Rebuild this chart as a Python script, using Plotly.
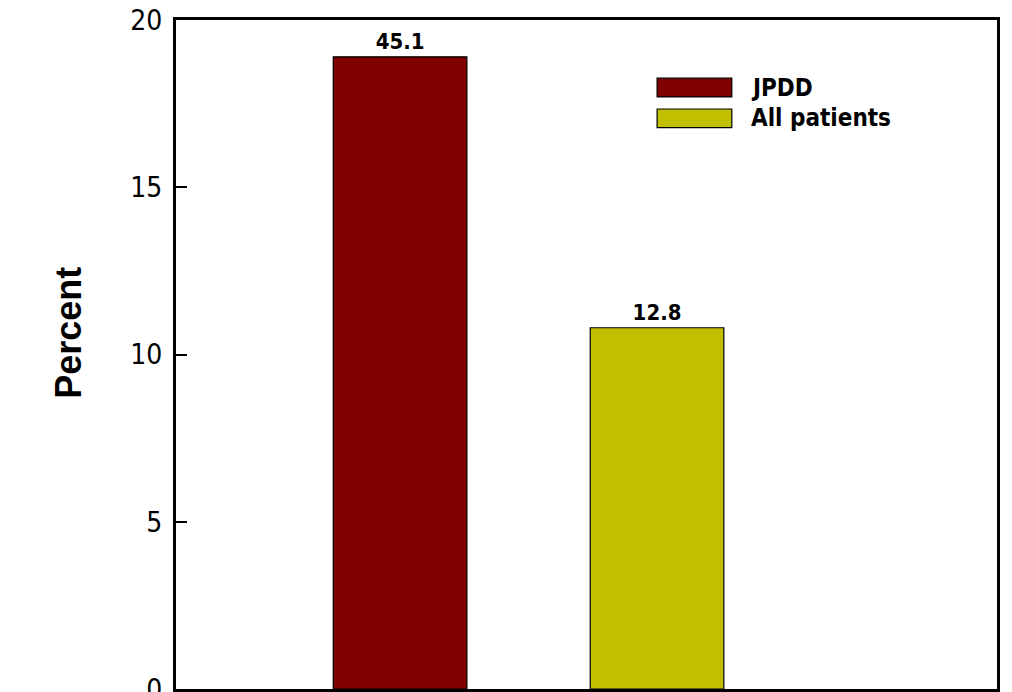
import plotly.graph_objects as go

# --- data ---
groups = ["JPDD", "All patients"]
values = [18.9, 10.8]
bar_labels = ["45.1", "12.8"]
colors = ["#800000", "#C0C000"]
y_ticks = [0, 5, 10, 15, 20]

COND = "Liberation Sans Narrow, DejaVu Sans Condensed, Arial Narrow, sans-serif"

fig = go.Figure()

for i, (g, v, lab, c) in enumerate(zip(groups, values, bar_labels, colors)):
    fig.add_trace(go.Bar(
        x=[i], y=[v], name=g,
        width=0.52,
        marker=dict(color=c, line=dict(color="black", width=1.2)),
        text=[lab], textposition="outside", cliponaxis=False,
        textfont=dict(family=COND, size=22, color="black", weight="bold"),
    ))

# legend drawn by hand to get the wide swatches
sw_x0, sw_x1 = 0.586, 0.677
rows_y = [(0.885, 0.913), (0.839, 0.867)]
for (y0, y1), g, c in zip(rows_y, groups, colors):
    fig.add_shape(type="rect", xref="paper", yref="paper",
                  x0=sw_x0, x1=sw_x1, y0=y0, y1=y1,
                  fillcolor=c, line=dict(color="black", width=1.2))
    fig.add_annotation(xref="paper", yref="paper", x=0.698, y=(y0 + y1) / 2,
                       text=g, showarrow=False, xanchor="left", yanchor="middle",
                       font=dict(family=COND, size=24, color="black", weight="bold"))

# y-axis title
fig.add_annotation(xref="paper", yref="paper", x=-0.132, y=0.532,
                   text="Percent", textangle=-90, showarrow=False,
                   xanchor="center", yanchor="middle",
                   font=dict(family="Liberation Sans, Arial, sans-serif", size=36,
                             color="black", weight="bold"))

fig.update_layout(
    width=1012, height=692,
    margin=dict(l=176, r=15, t=20, b=3),
    plot_bgcolor="white", paper_bgcolor="white",
    showlegend=False,
    xaxis=dict(range=[-0.872, 2.323], showticklabels=False, ticks="",
               showgrid=False, zeroline=False,
               showline=True, linecolor="black", linewidth=3, mirror=True),
    yaxis=dict(range=[0, 20], tickvals=y_ticks, ticks="inside", ticklen=11,
               tickwidth=1.5, tickcolor="black", showgrid=False, zeroline=False,
               showline=True, linecolor="black", linewidth=3, mirror=True,
               automargin=False, ticklabelstandoff=5, ticklabeloverflow="allow",
               tickfont=dict(family=COND, size=28, color="black")),
)

# drop the default page margin so the figure sits at the window's corner
fig.write_html("out.html", config={"displayModeBar": False},
               post_script="document.body.style.margin='0';")
